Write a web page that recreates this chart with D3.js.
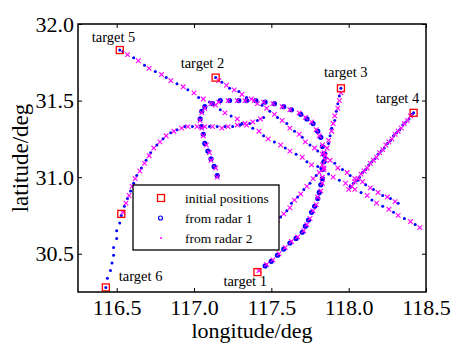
<!DOCTYPE html>
<html>
<head>
<meta charset="utf-8">
<script src="https://cdn.jsdelivr.net/npm/d3@7"></script>
<style>
  body { margin: 0; background: #fff; }
  svg { display: block; }
  text { font-family: "Liberation Serif", "Times New Roman", serif; fill: #000; }
</style>
</head>
<body>
<svg id="chart" width="455" height="343"></svg>
<script>
// axis ticks
const xTicks = [116.5, 117.0, 117.5, 118.0, 118.5];
const yTicks = [30.5, 31.0, 31.5, 32.0];

const targetNames = ["target 1", "target 2", "target 3", "target 4", "target 5", "target 6"];
const legendLabels = ["initial positions", "from radar 1", "from radar 2"];

// initial positions [lon, lat] (target 1..6, then radar 2 start of target 6)
const initialPositions = [
  [117.41, 30.38], [117.14, 31.65], [117.95, 31.58], [118.42, 31.42],
  [116.52, 31.83], [116.43, 30.28], [116.53, 30.76]
];

const track1Radar1 = [[117.46,30.42],[117.50,30.45],[117.54,30.49],[117.58,30.53],[117.62,30.57],[117.66,30.60],[117.70,30.64],[117.72,30.68],[117.74,30.72],[117.76,30.77],[117.78,30.81],[117.80,30.86],[117.81,30.90],[117.82,30.95],[117.83,30.99],[117.83,31.05],[117.84,31.10],[117.84,31.15],[117.83,31.20],[117.82,31.26],[117.80,31.30],[117.77,31.35],[117.73,31.38],[117.69,31.41],[117.63,31.44],[117.58,31.46],[117.52,31.48],[117.46,31.49],[117.40,31.50],[117.34,31.50],[117.29,31.50],[117.23,31.50],[117.17,31.50],[117.12,31.48],[117.07,31.46],[117.05,31.43],[117.04,31.38],[117.05,31.33],[117.06,31.28],[117.07,31.22],[117.09,31.17],[117.11,31.12],[117.13,31.07],[117.15,31.01]];
const track1Radar2 = [[117.42,30.39],[117.47,30.43],[117.51,30.46],[117.55,30.50],[117.59,30.54],[117.63,30.58],[117.67,30.61],[117.71,30.65],[117.73,30.69],[117.75,30.73],[117.77,30.78],[117.79,30.82],[117.80,30.87],[117.82,30.91],[117.83,30.96],[117.83,31.00],[117.84,31.06],[117.85,31.11],[117.84,31.16],[117.83,31.21],[117.81,31.27],[117.79,31.31],[117.76,31.36],[117.72,31.39],[117.68,31.42],[117.62,31.44],[117.57,31.46],[117.51,31.48],[117.45,31.49],[117.39,31.50],[117.33,31.50],[117.28,31.50],[117.22,31.50],[117.16,31.49],[117.11,31.48],[117.07,31.45],[117.05,31.42],[117.04,31.37],[117.05,31.32],[117.06,31.27],[117.08,31.21],[117.10,31.16],[117.11,31.11],[117.14,31.06],[117.15,31.00]];

const track2Radar1 = [[117.14,31.65],[117.18,31.62],[117.23,31.58],[117.29,31.56],[117.34,31.52],[117.39,31.50],[117.44,31.47],[117.49,31.43],[117.54,31.39],[117.60,31.35],[117.65,31.30],[117.70,31.26],[117.75,31.21],[117.80,31.17],[117.85,31.13],[117.91,31.09],[117.96,31.05],[118.01,31.01],[118.06,30.98],[118.11,30.95],[118.16,30.92],[118.22,30.88],[118.27,30.86],[118.32,30.83]];
const track2Radar2 = [[117.16,31.63],[117.21,31.60],[117.26,31.57],[117.31,31.54],[117.37,31.51],[117.41,31.48],[117.47,31.45],[117.52,31.41],[117.57,31.37],[117.62,31.32],[117.68,31.28],[117.72,31.23],[117.78,31.19],[117.83,31.15],[117.88,31.11],[117.93,31.06],[117.99,31.03],[118.04,30.99],[118.09,30.97],[118.14,30.93],[118.19,30.90],[118.25,30.87],[118.30,30.84]];

const track3Radar1 = [[117.95,31.58],[117.94,31.53],[117.93,31.48],[117.92,31.43],[117.91,31.37],[117.89,31.32],[117.88,31.27],[117.87,31.22],[117.85,31.16],[117.84,31.11],[117.82,31.06],[117.79,31.01],[117.75,30.96],[117.71,30.92],[117.67,30.87],[117.63,30.83],[117.60,30.78],[117.56,30.74],[117.52,30.69]];
const track3Radar2 = [[117.95,31.55],[117.94,31.50],[117.93,31.45],[117.91,31.40],[117.90,31.35],[117.89,31.30],[117.87,31.24],[117.86,31.19],[117.85,31.14],[117.83,31.08],[117.81,31.03],[117.77,30.99],[117.73,30.94],[117.69,30.89],[117.65,30.85],[117.62,30.80],[117.58,30.76],[117.54,30.72],[117.50,30.68]];

const track4Radar1 = [[118.42,31.42],[118.41,31.41],[118.39,31.38],[118.37,31.36],[118.35,31.34],[118.33,31.31],[118.31,31.29],[118.29,31.27],[118.27,31.24],[118.25,31.22],[118.23,31.19],[118.21,31.17],[118.19,31.15],[118.17,31.12],[118.15,31.10],[118.13,31.08],[118.11,31.05],[118.09,31.03],[118.07,31.00],[118.05,30.98],[118.03,30.96],[118.01,30.93]];
const track4Radar2 = [[118.40,31.40],[118.38,31.37],[118.36,31.35],[118.34,31.32],[118.32,31.30],[118.30,31.28],[118.28,31.25],[118.26,31.23],[118.24,31.21],[118.22,31.18],[118.20,31.16],[118.18,31.13],[118.16,31.11],[118.14,31.09],[118.12,31.06],[118.10,31.04],[118.08,31.02],[118.06,30.99],[118.04,30.97],[118.02,30.94],[118.00,30.92]];

const track5Radar1 = [[116.52,31.83],[116.54,31.82],[116.61,31.78],[116.68,31.73],[116.75,31.69],[116.82,31.65],[116.89,31.61],[116.96,31.57],[117.03,31.52],[117.10,31.49],[117.17,31.44],[117.24,31.40],[117.31,31.35],[117.38,31.32],[117.45,31.27],[117.52,31.23],[117.59,31.19],[117.66,31.15],[117.73,31.10],[117.80,31.07],[117.87,31.02],[117.94,30.98],[118.01,30.94],[118.08,30.90],[118.15,30.85],[118.22,30.81],[118.29,30.77],[118.36,30.73],[118.43,30.69]];
const track5Radar2 = [[116.57,31.80],[116.64,31.76],[116.71,31.71],[116.79,31.67],[116.85,31.63],[116.93,31.59],[117.00,31.55],[117.06,31.51],[117.14,31.47],[117.20,31.42],[117.28,31.38],[117.34,31.34],[117.42,31.30],[117.48,31.25],[117.56,31.21],[117.62,31.17],[117.70,31.13],[117.76,31.08],[117.84,31.05],[117.90,31.00],[117.98,30.96],[118.04,30.92],[118.12,30.88],[118.18,30.83],[118.26,30.79],[118.32,30.75],[118.40,30.71],[118.46,30.67]];

const track6Radar1 = [[116.43,30.28],[116.44,30.34],[116.46,30.39],[116.47,30.44],[116.48,30.49],[116.48,30.54],[116.50,30.60],[116.50,30.65],[116.52,30.70],[116.53,30.75],[116.55,30.81],[116.57,30.86],[116.59,30.91],[116.61,30.96],[116.63,31.01],[116.66,31.06],[116.69,31.11],[116.72,31.16],[116.76,31.21],[116.80,31.25],[116.85,31.29],[116.89,31.31],[116.94,31.33],[116.99,31.33],[117.05,31.33],[117.10,31.33],[117.15,31.33],[117.20,31.33],[117.25,31.33],[117.30,31.34],[117.36,31.35],[117.41,31.37],[117.45,31.39]];
const track6Radar2 = [[116.54,30.77],[116.56,30.83],[116.58,30.88],[116.60,30.94],[116.62,30.99],[116.65,31.04],[116.68,31.09],[116.71,31.14],[116.74,31.19],[116.78,31.23],[116.82,31.27],[116.87,31.30],[116.92,31.32],[116.96,31.33],[117.02,31.33],[117.07,31.33],[117.12,31.33],[117.18,31.32],[117.22,31.33],[117.28,31.34],[117.33,31.35],[117.38,31.36],[117.43,31.38]];

const radar1Tracks = [track1Radar1, track2Radar1, track3Radar1, track4Radar1, track5Radar1, track6Radar1];
const radar2Tracks = [track1Radar2, track2Radar2, track3Radar2, track4Radar2, track5Radar2, track6Radar2];

// layout
const svg = d3.select("#chart");
const plotLeft = 78, plotRight = 426, plotTop = 24, plotBottom = 292;

const x = d3.scaleLinear().domain([116.25, 118.5]).range([plotLeft, plotRight]);
const y = d3.scaleLinear().domain([30.25, 32.0]).range([plotBottom, plotTop]);

const fmt = d3.format(".1f");

// axes, ticks pointing inward on all four sides
svg.append("g").attr("transform", `translate(0,${plotBottom})`)
  .call(d3.axisBottom(x).tickValues(xTicks).tickSize(-4).tickPadding(7).tickFormat(fmt));
svg.append("g").attr("transform", `translate(0,${plotTop})`)
  .call(d3.axisTop(x).tickValues(xTicks).tickSize(-4).tickFormat(""));
svg.append("g").attr("transform", `translate(${plotLeft},0)`)
  .call(d3.axisLeft(y).tickValues(yTicks).tickSize(-4).tickPadding(4).tickFormat(fmt));
svg.append("g").attr("transform", `translate(${plotRight},0)`)
  .call(d3.axisRight(y).tickValues(yTicks).tickSize(-4).tickFormat(""));

svg.selectAll(".domain").remove();
svg.selectAll(".tick line").attr("stroke", "#000").attr("stroke-width", 1);
svg.selectAll(".tick text").attr("font-size", 22).attr("font-family", "Liberation Serif").attr("fill", "#000");

// radar 1 (blue dots), target 1 drawn bigger
radar1Tracks.forEach((track, i) => {
  svg.append("g").selectAll("circle")
    .data(track)
    .enter()
    .append("circle")
    .attr("cx", d => x(d[0]))
    .attr("cy", d => y(d[1]))
    .attr("r", i === 0 ? 2.6 : 1.5)
    .attr("fill", "#0000ff");
});

// radar 2 (magenta crosses)
const cross = "M-2.3,-2.3L2.3,2.3M-2.3,2.3L2.3,-2.3";
radar2Tracks.forEach(track => {
  svg.append("g").selectAll("path")
    .data(track)
    .enter()
    .append("path")
    .attr("d", cross)
    .attr("transform", d => `translate(${x(d[0])},${y(d[1])})`)
    .attr("stroke", "#ff00ff")
    .attr("stroke-width", 1.1)
    .attr("fill", "none");
});

// initial positions
svg.append("g").selectAll("rect")
  .data(initialPositions)
  .enter()
  .append("rect")
  .attr("x", d => x(d[0]) - 3.5)
  .attr("y", d => y(d[1]) - 3.5)
  .attr("width", 7)
  .attr("height", 7)
  .attr("fill", "none")
  .attr("stroke", "#ff0000")
  .attr("stroke-width", 1.3);

// target labels, offset from the initial position in px
const labelOffsets = [[-34, 14], [-35, -10], [-17, -11], [-38, -10], [-28, -8], [13, -6]];
svg.append("g").selectAll("text")
  .data(targetNames)
  .enter()
  .append("text")
  .attr("x", (d, i) => x(initialPositions[i][0]) + labelOffsets[i][0])
  .attr("y", (d, i) => y(initialPositions[i][1]) + labelOffsets[i][1])
  .attr("font-size", 14.5)
  .text(d => d);

// frame
svg.append("rect")
  .attr("x", plotLeft).attr("y", plotTop)
  .attr("width", plotRight - plotLeft).attr("height", plotBottom - plotTop)
  .attr("fill", "none").attr("stroke", "#000").attr("stroke-width", 1.5);

// legend
const lg = svg.append("g").attr("transform", "translate(133,185)");
lg.append("rect").attr("width", 146).attr("height", 65)
  .attr("fill", "#fff").attr("stroke", "#000").attr("stroke-width", 1.3);
const rowY = [13, 33, 53];
lg.append("rect").attr("x", 24.5).attr("y", rowY[0] - 3.5).attr("width", 7).attr("height", 7)
  .attr("fill", "none").attr("stroke", "#ff0000").attr("stroke-width", 1.3);
lg.append("circle").attr("cx", 27.5).attr("cy", rowY[1]).attr("r", 2)
  .attr("fill", "none").attr("stroke", "#0000ff").attr("stroke-width", 1.2);
lg.append("circle").attr("cx", 28).attr("cy", rowY[2]).attr("r", 1)
  .attr("fill", "#ff00ff");
lg.selectAll("text.lab")
  .data(legendLabels)
  .enter()
  .append("text")
  .attr("class", "lab")
  .attr("x", 52)
  .attr("y", (d, i) => rowY[i] + 5)
  .attr("font-size", 13.5)
  .text(d => d);

// axis titles
svg.append("text")
  .attr("x", (plotLeft + plotRight) / 2).attr("y", 338)
  .attr("text-anchor", "middle").attr("font-size", 22)
  .text("longitude/deg");
svg.append("text")
  .attr("transform", `translate(28,${(plotTop + plotBottom) / 2}) rotate(-90)`)
  .attr("text-anchor", "middle").attr("font-size", 23)
  .text("latitude/deg");
</script>
</body>
</html>
